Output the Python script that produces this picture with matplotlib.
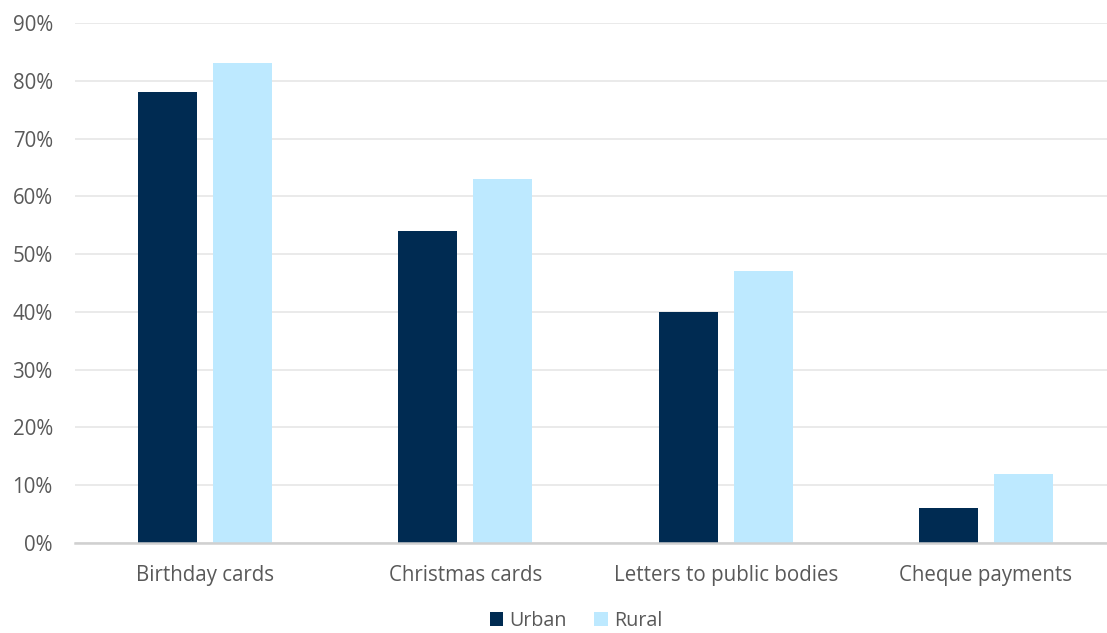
import numpy as np
import matplotlib
matplotlib.use("Agg")
import matplotlib.pyplot as plt

# data
categories = ["Birthday cards", "Christmas cards", "Letters to public bodies", "Cheque payments"]
urban = [78, 54, 40, 6]
rural = [83, 63, 47, 12]
yticks = list(range(0, 91, 10))

URBAN_COLOR = "#002B52"
RURAL_COLOR = "#BDE9FF"
TEXT_COLOR = "#595959"

plt.rcParams["font.family"] = ["Open Sans", "DejaVu Sans"]

fig = plt.figure(figsize=(11.07, 6.33), dpi=100)
ax = fig.add_axes([75 / 1107, 1 - 543 / 633, 1041 / 1107, 520 / 633])

x = np.arange(len(categories))
width = 0.226
offset = 0.144
ax.bar(x - offset, urban, width, color=URBAN_COLOR, label="Urban", zorder=3)
ax.bar(x + offset, rural, width, color=RURAL_COLOR, label="Rural", zorder=3)

ax.set_xlim(-0.5, len(categories) - 0.5)
ax.set_ylim(0, 90)
ax.set_yticks(yticks)
ax.set_yticklabels([f"{t}%" for t in yticks])
ax.set_xticks(x)
ax.set_xticklabels(categories)

ax.tick_params(axis="both", length=0, labelsize=14.8, colors=TEXT_COLOR)
ax.tick_params(axis="x", pad=16)
ax.tick_params(axis="y", pad=16)

ax.grid(axis="y", color="#E6E6E6", linewidth=1.2, zorder=0)
for side in ["top", "right", "left"]:
    ax.spines[side].set_visible(False)
ax.spines["bottom"].set_color("#D0D0D0")
ax.spines["bottom"].set_linewidth(1.8)
ax.spines["bottom"].set_zorder(4)

# legend sits at the bottom edge; kept just inside so the text is not clipped
fig.legend(loc="center", bbox_to_anchor=(576 / 1107, 1 - 621 / 633), ncol=2,
           frameon=False, fontsize=14.2, labelcolor=TEXT_COLOR,
           handlelength=0.7, handleheight=0.7, handletextpad=0.3,
           columnspacing=1.4, borderpad=0.05)

fig.savefig("out.png", dpi=100)
plt.close(fig)
